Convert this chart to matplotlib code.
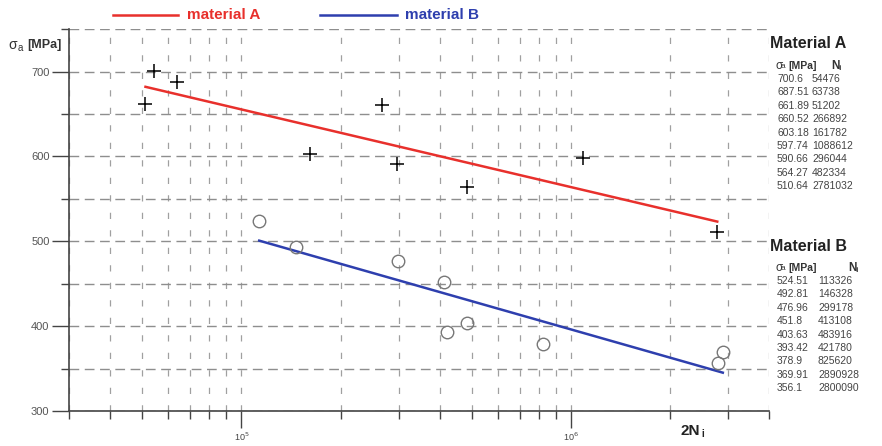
"""S-N chart, material A vs material B"""

import numpy as np
import matplotlib
matplotlib.use('Agg')
import matplotlib.pyplot as plt
from matplotlib.ticker import LogLocator, NullFormatter, FixedLocator

# material A: stress amplitude [MPa] and cycles
sigma_a = [700.6, 687.51, 661.89, 660.52, 603.18, 597.74, 590.66, 564.27, 510.64]
n_a = [54476, 63738, 51202, 266892, 161782, 1088612, 296044, 482334, 2781032]

# material B
sigma_b = [524.51, 492.81, 476.96, 451.8, 403.63, 393.42, 378.9, 369.91, 356.1]
n_b = [113326, 146328, 299178, 413108, 483916, 421780, 825620, 2890928, 2800090]

y_ticks = [300, 400, 500, 600, 700]
y_minor = [350, 450, 550, 650, 750]

red = '#e8302c'
blue = '#2e3fae'
grid_c = '#8e8e8e'

plt.rcParams['font.family'] = ['Liberation Sans', 'DejaVu Sans']

fig = plt.figure(figsize=(8.82, 4.46), dpi=100)
ax = fig.add_axes([0.0782, 0.0785, 0.794, 0.856])

# data points
ax.plot(n_a, sigma_a, '+', color='black', markersize=10, markeredgewidth=1.1, zorder=4)
ax.plot(n_b, sigma_b, 'o', mfc='none', mec='#777777', markersize=9, markeredgewidth=1.0, zorder=4)

# regression lines sigma vs log N, between min and max N
for n, s, c in [(n_a, sigma_a, red), (n_b, sigma_b, blue)]:
    logn = np.log10(n)
    k, b = np.polyfit(logn, s, 1)
    xs = np.array([logn.min(), logn.max()])
    ax.plot(10 ** xs, k * xs + b, color=c, linewidth=1.8, zorder=3)

ax.set_xscale('log')
ax.set_xlim(3e4, 4e6)
ax.set_ylim(300, 750)

ax.xaxis.set_major_locator(FixedLocator([1e5, 1e6]))
ax.xaxis.set_minor_locator(LogLocator(base=10, subs=np.arange(2, 10)))
ax.xaxis.set_minor_formatter(NullFormatter())
ax.set_xticklabels(['10$^5$', '10$^6$'])
ax.yaxis.set_major_locator(FixedLocator(y_ticks))
ax.yaxis.set_minor_locator(FixedLocator(y_minor))

ax.tick_params(axis='x', which='major', direction='out', length=12, width=1, color='#444444',
               labelsize=6.5, labelcolor='#444444', pad=2)
ax.tick_params(axis='x', which='minor', direction='out', length=6, width=1, color='#444444')
ax.tick_params(axis='y', which='major', direction='out', length=12, width=1, color='#444444',
               labelsize=8, labelcolor='#555555', pad=2)
ax.tick_params(axis='y', which='minor', direction='out', length=6, width=1, color='#444444')

ax.grid(True, which='both', axis='y', linestyle=(0, (7, 4)), color=grid_c, linewidth=1.0)
ax.grid(True, which='both', axis='x', linestyle=(0, (5, 9)), color='#a0a0a0', linewidth=0.9)
for sp in ['top', 'right']:
    ax.spines[sp].set_visible(False)
for sp in ['left', 'bottom']:
    ax.spines[sp].set_color('#444444')
    ax.spines[sp].set_linewidth(1.2)

# axis titles
fig.text(0.009, 0.898, '\u03c3', fontsize=10, color='#333333', va='center')
fig.text(0.020, 0.893, 'a', fontsize=7, color='#333333', va='center')
fig.text(0.031, 0.898, '[MPa]', fontsize=9, fontweight='bold', color='#333333', va='center')
fig.text(0.771, 0.018, '2N', fontsize=11, fontweight='bold', color='#222222', va='bottom')
fig.text(0.795, 0.016, 'i', fontsize=7, fontweight='bold', color='#222222', va='bottom')

# legend at top
fig.add_artist(plt.Line2D([113 / 882, 178 / 882], [0.966, 0.966], color=red, linewidth=1.8))
fig.text(187 / 882, 0.966, 'material A', color=red, fontsize=11, fontweight='bold', va='center')
fig.add_artist(plt.Line2D([320 / 882, 397 / 882], [0.966, 0.966], color=blue, linewidth=1.8))
fig.text(405 / 882, 0.966, 'material B', color=blue, fontsize=11, fontweight='bold', va='center')


def draw_table(title, y_title, sig, nvals, x_n, x_nh):
    fig.text(770 / 882, 1 - y_title / 446, title, fontsize=11.5, fontweight='bold',
             color='#222222', va='center')
    yh = y_title + 22
    fig.text(775 / 882, 1 - yh / 446, '\u03c3', fontsize=8.5, color='#333333', va='center')
    fig.text(781 / 882, 1 - (yh + 1) / 446, 'a', fontsize=6, color='#333333', va='center')
    fig.text(788 / 882, 1 - yh / 446, '[MPa]', fontsize=7.5, fontweight='bold', color='#333333', va='center')
    fig.text(x_nh / 882, 1 - yh / 446, 'N', fontsize=8.5, fontweight='bold', color='#333333', va='center')
    fig.text((x_nh + 7) / 882, 1 - (yh + 2) / 446, 'i', fontsize=6, fontweight='bold', color='#333333', va='center')
    for i, (s, n) in enumerate(zip(sig, nvals)):
        yy = 1 - (yh + 13 + i * 13.4) / 446
        fig.text(777 / 882, yy, str(s), fontsize=7.5, color='#444444', va='center')
        fig.text(x_n / 882, yy, str(n), fontsize=7.5, color='#444444', va='center')


draw_table('Material A', 44, sigma_a, n_a, 812, 831)
draw_table('Material B', 246, sigma_b, n_b, 818, 848)

fig.savefig('out.png', dpi=100)
